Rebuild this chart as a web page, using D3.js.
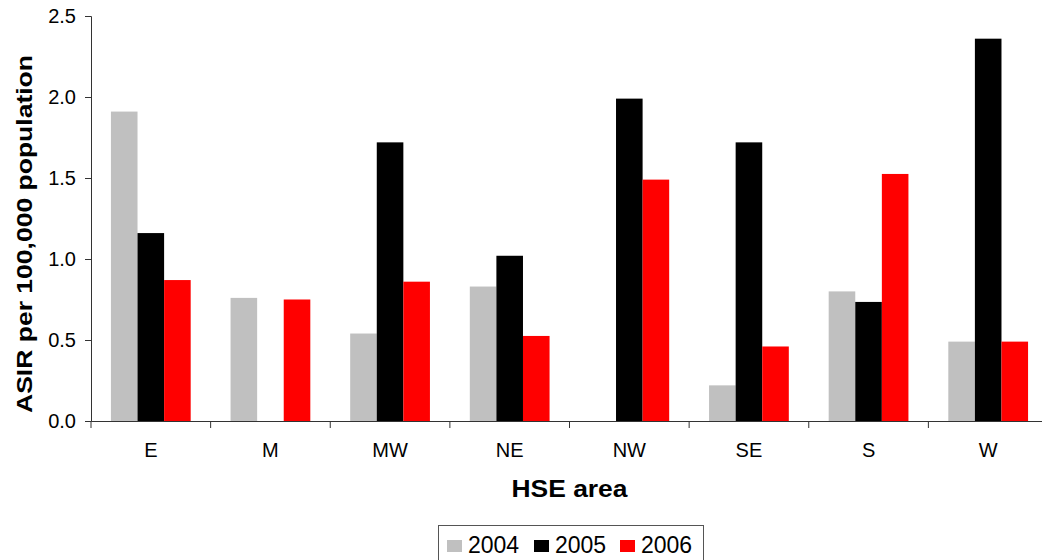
<!DOCTYPE html>
<html><head><meta charset="utf-8">
<script src="https://cdn.jsdelivr.net/npm/d3@7"></script>
<style>body{margin:0;background:#fff;} svg{display:block;font-family:"Liberation Sans",Arial,sans-serif;}</style>
</head><body>
<svg id="chart" width="1042" height="560"></svg>
<script>
const categories = ["E","M","MW","NE","NW","SE","S","W"];
const seriesNames = ["2004","2005","2006"];
const values2004 = [1.91, 0.76, 0.54, 0.83, 0, 0.22, 0.80, 0.49];
const values2005 = [1.16, 0, 1.72, 1.02, 1.99, 1.72, 0.735, 2.36];
const values2006 = [0.87, 0.75, 0.86, 0.525, 1.49, 0.46, 1.525, 0.49];
const yTicks = [0, 0.5, 1.0, 1.5, 2.0, 2.5];
const colors = ["#C0C0C0", "#000000", "#FF0000"];
const seriesValues = [values2004, values2005, values2006];

(function(){
const svg = d3.select("#chart");
const pLeft = 91, pRight = 1048, pTop = 16, pBottom = 421;

const x = d3.scaleBand().domain(categories).range([pLeft, pRight]).paddingInner(0).paddingOuter(0);
const bw = x.bandwidth();
const gap = bw * 1.5 / 4.5;
const xs = d3.scaleBand().domain(seriesNames).range([gap/2, bw - gap/2]).padding(0);
const y = d3.scaleLinear().domain([0, 2.5]).range([pBottom, pTop]);

// bars
seriesNames.forEach((s, si) => {
  svg.append("g").selectAll("rect")
    .data(categories.map((c, i) => ({c, v: seriesValues[si][i]})))
    .join("rect")
    .attr("x", d => x(d.c) + xs(s))
    .attr("y", d => y(d.v))
    .attr("width", xs.bandwidth())
    .attr("height", d => y(0) - y(d.v))
    .attr("fill", colors[si]);
});

// y axis
const yAxis = svg.append("g").attr("transform", `translate(${pLeft},0)`)
  .call(d3.axisLeft(y).tickValues(yTicks).tickFormat(d3.format(".1f")).tickSize(6).tickPadding(9));
yAxis.select(".domain").attr("stroke", "#333");
yAxis.selectAll(".tick line").attr("stroke", "#333");
yAxis.selectAll("text").attr("font-size", 20).attr("fill", "#000").attr("font-family", "Liberation Sans, Arial, sans-serif");

// x axis
const xAxis = svg.append("g").attr("transform", `translate(0,${pBottom})`)
  .call(d3.axisBottom(x).tickSize(0).tickPadding(22));
xAxis.select(".domain").attr("stroke", "#333");
xAxis.selectAll("text").attr("font-size", 20).attr("fill", "#000").attr("font-family", "Liberation Sans, Arial, sans-serif");
// category boundary ticks
svg.append("g").selectAll("line")
  .data(d3.range(categories.length + 1))
  .join("line")
  .attr("x1", i => pLeft + i * bw).attr("x2", i => pLeft + i * bw)
  .attr("y1", pBottom).attr("y2", pBottom + 7)
  .attr("stroke", "#333");

// axis titles
svg.append("text")
  .attr("x", (pLeft + pRight) / 2).attr("y", 497)
  .attr("text-anchor", "middle").attr("font-size", 24).attr("font-weight", "bold")
  .attr("textLength", 116).attr("lengthAdjust", "spacingAndGlyphs")
  .text("HSE area");

svg.append("text")
  .attr("transform", "translate(32,234) rotate(-90)")
  .attr("text-anchor", "middle").attr("font-size", 22).attr("font-weight", "bold")
  .attr("textLength", 358).attr("lengthAdjust", "spacingAndGlyphs")
  .text("ASIR per 100,000 population");

// legend
const lg = svg.append("g");
lg.append("rect").attr("x", 438.5).attr("y", 525.5).attr("width", 265).attr("height", 40)
  .attr("fill", "#fff").attr("stroke", "#555");
const legX = [447, 534, 620];
seriesNames.forEach((s, i) => {
  lg.append("rect").attr("x", legX[i]).attr("y", 540).attr("width", 15).attr("height", 12).attr("fill", colors[i]);
  lg.append("text").attr("x", legX[i] + 21).attr("y", 553).attr("font-size", 23).attr("fill", "#000").text(s);
});
})();
</script>
</body></html>
